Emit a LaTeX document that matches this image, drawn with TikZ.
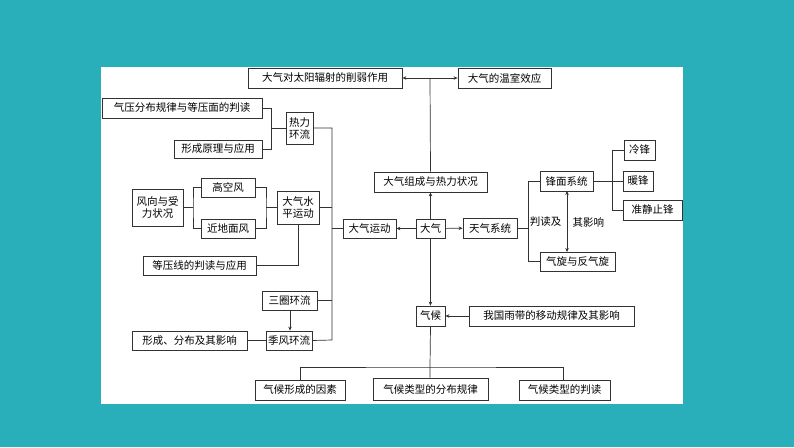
\documentclass[tikz,border=0pt]{standalone}
\usepackage{fontspec}
\setmainfont{Noto Sans CJK SC}
\usetikzlibrary{arrows.meta}
\definecolor{teal1}{RGB}{40,175,185}
\definecolor{ln}{RGB}{50,50,50}
\begin{document}
\begin{tikzpicture}[x=1pt,y=-1pt,
  bx/.style={draw=ln,line width=0.8pt,inner sep=0pt,font=\fontsize{10.5}{12}\selectfont,align=center},
  ar/.style={-{Stealth[length=4pt,width=3.5pt]},draw=ln,line width=0.7pt},
  da/.style={{Stealth[length=4pt,width=3.5pt]}-{Stealth[length=4pt,width=3.5pt]},draw=ln,line width=0.7pt},
  ln/.style={draw=ln,line width=0.7pt}]
\fill[teal1] (0,0) rectangle (794,447);
\fill[white] (101,67) rectangle (683,404);
\useasboundingbox (0,0) rectangle (794,447);
\newcommand{\B}[6]{\node[bx,minimum width=#4-#2,minimum height=#5-#3] (#1) at ({(#2+#4)/2},{(#3+#5)/2}) {#6};}
\B{xr}{248}{68}{402}{88}{大气对太阳辐射的削弱作用}
\B{wsh}{458}{68}{551}{88}{大气的温室效应}
\B{qy}{102}{98}{262}{118}{气压分布规律与等压面的判读}
\B{xc}{174}{140}{262}{158}{形成原理与应用}
\B{rl}{286}{112}{313}{144}{热力\\环流}
\B{fx}{132}{189}{183}{226}{风向与受\\力状况}
\B{gk}{201}{178}{255}{197}{高空风}
\B{jd}{201}{219}{255}{238}{近地面风}
\B{sp}{277}{191}{319}{224}{大气水\\平运动}
\B{dy}{143}{256}{256}{275}{等压线的判读与应用}
\B{yd}{343}{219}{396}{238}{大气运动}
\B{dq}{416}{219}{445}{238}{大气}
\B{sq}{262}{291}{317}{310}{三圈环流}
\B{jf}{266}{331}{312}{350}{季风环流}
\B{xf}{132}{331}{247}{350}{形成、分布及其影响}
\B{zc}{374}{172}{487}{192}{大气组成与热力状况}
\B{qh}{416}{306}{445}{326}{气候}
\B{yy}{469}{306}{634}{326}{我国雨带的移动规律及其影响}
\B{tq}{463}{218}{517}{238}{天气系统}
\B{fm}{540}{171}{593}{191}{锋面系统}
\B{qx}{540}{252}{615}{271}{气旋与反气旋}
\B{lf}{624}{140}{655}{160}{冷锋}
\B{nf}{623}{171}{653}{191}{暖锋}
\B{zj}{623}{200}{682}{220}{准静止锋}
\B{ys}{255}{380}{345}{400}{气候形成的因素}
\B{fb}{373}{378}{488}{400}{气候类型的分布规律}
\B{pd}{519}{380}{610}{400}{气候类型的判读}
\coordinate (top) at (430,78);
% top
\draw[ar] (dq) -- (zc);
\draw[ln] (zc.north) -- (top);
\draw[ar] (top) -- (xr.east);
\draw[ar] (top) -- (wsh.west);
% left
\draw[ar] (dq) -- (yd);
\draw[ln] (qy.east) -| (271,128) -- (rl.west);
\draw[ln] (xc.east) -| (271,128);
\draw[ln] (rl.east) -| (332,340) -- (jf.east);
\draw[ln] (yd.west) -- (332,228.5);
\draw[ln] (sp.east) -- (332,207.5);
\draw[ln] (sq.east) -- (332,300.5);
\draw[ln] (fx.east) -- (193,207.5);
\draw[ln] (gk.west) -| (193,207.5) |- (jd.west);
\draw[ln] (gk.east) -| (266,207.5) |- (jd.east);
\draw[ln] (266,207.5) -- (sp.west);
\draw[ln] (dy.east) -| (sp.south);
\draw[ar] (sq.south -| 290,0) -- (jf.north -| 290,0);
\draw[ln] (xf) -- (jf);
% right
\draw[ar] (dq) -- (tq);
\draw[ln] (tq.east) -- (528,228);
\draw[ln] (fm.west) -| (528,261.5) -- (qx.west);
\draw[ln] (fm.east) -- (nf.west);
\draw[ln] (lf.west) -| (612,210) -- (zj.west);
\draw[da] (567,191) -- (567,252);
\node[font=\fontsize{10.5}{12}\selectfont,anchor=east] (l1) at (565,222) {判读及};
\node[font=\fontsize{10.5}{12}\selectfont,anchor=west] (l2) at (569,222) {其影响};
% bottom
\draw[ar] (dq) -- (qh);
\draw[ar] (yy) -- (qh);
\draw[ln] (qh.south) -- (430,367) -- (fb.north -| 430,0);
\draw[ln] (ys.north -| 300,0) |- (430,367) -| (pd.north -| 563,0);
\end{tikzpicture}
\end{document}
